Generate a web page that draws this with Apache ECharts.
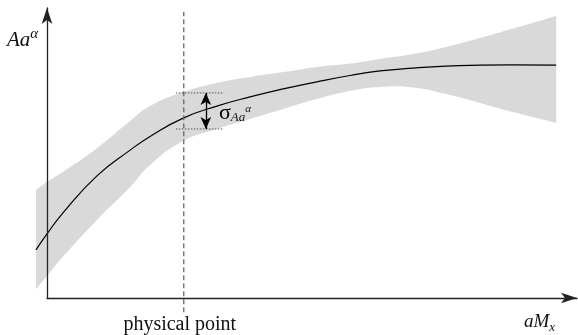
<!DOCTYPE html>
<html>
<head>
<meta charset="utf-8">
<script src="https://cdn.jsdelivr.net/npm/echarts@6/dist/echarts.min.js"></script>
<style>
  html, body { margin: 0; padding: 0; background: #fff; }
  #chart { width: 578px; height: 335px; }
</style>
</head>
<body>
<div id="chart"></div>
<script>
// lattice spacing axis (aM_x) samples
const xs = [-2.1, 0, 3.0, 9.5, 15.8, 19.6, 25.9, 32.3, 38.6, 44.9, 51.3, 57.6, 63.3, 69.6, 75.9, 82.3, 88.6, 96.8];
// central fit
const curve = [16.8, 22.4, 29.7, 42.7, 51.7, 56.5, 62.9, 67.1, 70.3, 73.1, 75.6, 77.8, 79.4, 80.4, 81.1, 81.4, 81.5, 81.4];
// error band edges
const bandTop = [37.8, 40.6, 44.1, 52.4, 61.9, 67.1, 72.0, 75.2, 77.3, 79.0, 80.8, 82.0, 83.6, 85.3, 87.8, 90.9, 94.2, 98.6];
const bandLow = [3.1, 7.7, 14.3, 27.3, 38.8, 46.5, 54.9, 59.1, 62.6, 66.1, 69.6, 72.4, 73.8, 73.6, 71.3, 68.2, 65.0, 61.2];

// physical point and sigma marker
const physX = 26.0;
const physSpan = [-5, 100];
const sigmaTop = 71.7;
const sigmaLow = 59.1;
const sigmaTickX = [24.5, 33.5];
const sigmaArrowX = 30.2;

const serif = "Liberation Serif";

const chart = echarts.init(document.getElementById("chart"));

function renderBand(params, api) {
  const pt = (x, y) => api.coord([x, y]);
  const last = xs.length - 1;
  // top edge left->right, bottom edge right->left, corners doubled so ends stay straight
  const poly = [];
  poly.push(pt(xs[0], bandTop[0]));
  xs.forEach((x, i) => poly.push(pt(x, bandTop[i])));
  poly.push(pt(xs[last], bandTop[last]));
  poly.push(pt(xs[last], bandLow[last]));
  for (let i = last; i >= 0; i--) poly.push(pt(xs[i], bandLow[i]));
  poly.push(pt(xs[0], bandLow[0]));

  const line = xs.map((x, i) => pt(x, curve[i]));
  const p0 = pt(physX, physSpan[0]);
  const p1 = pt(physX, physSpan[1]);

  return {
    type: "group",
    children: [
      {
        type: "polygon",
        shape: { points: poly, smooth: 0.5 },
        style: { fill: "#d9d9d9" },
      },
      {
        type: "polyline",
        shape: { points: line, smooth: 0.5 },
        style: { stroke: "#000", lineWidth: 1.2, fill: null },
      },
      {
        type: "line",
        shape: { x1: p0[0], y1: p0[1], x2: p1[0], y2: p1[1] },
        style: { stroke: "#666", lineWidth: 1.3, lineDash: [5, 3] },
      },
      {
        type: "text",
        x: p0[0] - 4,
        y: p0[1] + 2,
        style: {
          text: "physical point",
          align: "center",
          verticalAlign: "top",
          fontFamily: serif,
          fontSize: 20,
          fill: "#111",
        },
      },
    ],
  };
}

const option = {
  animation: false,
  grid: { left: 47, right: 1, top: 8, bottom: 37 },
  xAxis: {
    type: "value",
    min: 0,
    max: 100.76,
    z: 5,
    axisLine: {
      show: true,
      symbol: ["none", "arrow"],
      symbolSize: [8, 16],
      lineStyle: { color: "#222", width: 1.3 },
    },
    axisTick: { show: false },
    axisLabel: { show: false },
    splitLine: { show: false },
  },
  yAxis: {
    type: "value",
    min: 0,
    max: 101.4,
    z: 5,
    axisLine: {
      show: true,
      symbol: ["none", "arrow"],
      symbolSize: [8, 16],
      lineStyle: { color: "#222", width: 1.3 },
    },
    axisTick: { show: false },
    axisLabel: { show: false },
    splitLine: { show: false },
  },
  series: [
    {
      type: "custom",
      data: [0],
      renderItem: renderBand,
      clip: false,
      silent: true,
      z: 1,
    },
    {
      // sigma dotted guides
      type: "line",
      data: [[sigmaTickX[0], sigmaTop], [sigmaTickX[1], sigmaTop]],
      symbol: "none",
      clip: false,
      lineStyle: { color: "#555", width: 1, type: [1.5, 1.5] },
      silent: true,
      z: 3,
    },
    {
      type: "line",
      data: [[sigmaTickX[0], sigmaLow], [sigmaTickX[1], sigmaLow]],
      symbol: "none",
      clip: false,
      lineStyle: { color: "#555", width: 1, type: [1.5, 1.5] },
      silent: true,
      z: 3,
      markLine: {
        silent: true,
        symbol: ["arrow", "arrow"],
        symbolSize: [8, 12],
        label: { show: false },
        lineStyle: { color: "#000", width: 1.3, type: "solid" },
        data: [[{ coord: [sigmaArrowX, sigmaTop] }, { coord: [sigmaArrowX, sigmaLow] }]],
      },
    },
  ],
  graphic: [
    {
      type: "text",
      left: 7,
      top: 27,
      z: 100,
      style: {
        text: "{a|Aa}{b|α}",
        rich: {
          a: { fontFamily: serif, fontStyle: "italic", fontSize: 21, lineHeight: 24, verticalAlign: "bottom", fill: "#111" },
          b: { fontFamily: serif, fontStyle: "italic", fontSize: 15, lineHeight: 15, verticalAlign: "top", fill: "#111" },
        },
      },
    },
    {
      type: "text",
      left: 524,
      top: 312,
      z: 100,
      style: {
        text: "{a|aM}{b|x}",
        rich: {
          a: { fontFamily: serif, fontStyle: "italic", fontSize: 19, lineHeight: 22, verticalAlign: "top", fill: "#111" },
          b: { fontFamily: serif, fontStyle: "italic", fontSize: 13, lineHeight: 13, verticalAlign: "bottom", fill: "#111" },
        },
      },
    },
    {
      type: "text",
      left: 219,
      top: 102,
      z: 100,
      style: {
        text: "{s|σ}{a|Aa}{b|α}",
        rich: {
          s: { fontFamily: serif, fontSize: 22, lineHeight: 22, verticalAlign: "middle", fill: "#000" },
          a: { fontFamily: serif, fontStyle: "italic", fontSize: 13, lineHeight: 13, verticalAlign: "bottom", fill: "#111" },
          b: { fontFamily: serif, fontStyle: "italic", fontSize: 11, lineHeight: 11, verticalAlign: "top", fill: "#111", padding: [2, 0, 0, 0] },
        },
      },
    },
  ],
};

chart.setOption(option);
</script>
</body>
</html>
